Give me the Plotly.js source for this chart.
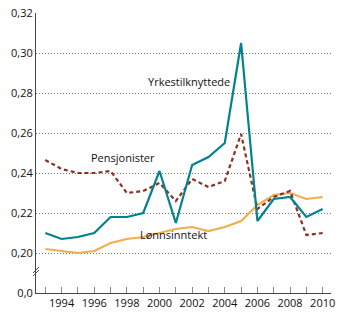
<!DOCTYPE html>
<html><head><meta charset="utf-8">
<script src="https://cdn.plot.ly/plotly-3.0.1.min.js"></script>
<style>body{margin:0;background:#fff}#c{width:350px;height:324px}</style>
</head><body><div id="c"></div>
<script>
const years = [1993,1994,1995,1996,1997,1998,1999,2000,2001,2002,2003,2004,2005,2006,2007,2008,2009,2010];
const yrkestilknyttede = [0.210,0.207,0.208,0.210,0.218,0.218,0.220,0.241,0.215,0.244,0.248,0.255,0.305,0.216,0.227,0.228,0.218,0.222];
const pensjonister = [0.2465,0.242,0.240,0.240,0.241,0.230,0.231,0.235,0.226,0.237,0.233,0.236,0.2595,0.222,0.228,0.231,0.209,0.210];
const lonnsinntekt = [0.202,0.201,0.200,0.201,0.205,0.207,0.208,0.210,0.212,0.213,0.211,0.213,0.216,0.224,0.229,0.230,0.227,0.228];
const yTickVals = [0.18,0.20,0.22,0.24,0.26,0.28,0.30,0.32];
const yTickText = ["0,0","0,20","0,22","0,24","0,26","0,28","0,30","0,32"];
const xTickVals = years;
const xTickText = years.map(y => (y % 2 === 0 ? String(y) : ""));

const font = {family: "Open Sans, DejaVu Sans, sans-serif", size: 11, color: "#111"};
const traces = [
  {x: years, y: lonnsinntekt, mode: "lines", line: {color: "#f2ae4c", width: 2.2}, name: "Lønnsinntekt"},
  {x: years, y: pensjonister, mode: "lines", line: {color: "#8e2f22", width: 2.2, dash: "4px,3px"}, name: "Pensjonister"},
  {x: years, y: yrkestilknyttede, mode: "lines", line: {color: "#00838c", width: 2.2}, name: "Yrkestilknyttede"}
];
const px = 1/295, py = 1/280;
const layout = {
  width: 350, height: 324,
  margin: {l: 36, r: 19, t: 13, b: 31},
  paper_bgcolor: "#fff", plot_bgcolor: "#fff",
  showlegend: false,
  font: font,
  xaxis: {
    range: [1992.43, 2010.51], tickvals: xTickVals, ticktext: xTickText,
    ticks: "inside", ticklen: 6, tickcolor: "#888", tickwidth: 1,
    showgrid: false, zeroline: false, showline: true, linecolor: "#444", linewidth: 1,
    tickfont: font, fixedrange: true
  },
  yaxis: {
    range: [0.18, 0.32], tickvals: yTickVals, ticktext: yTickText,
    ticks: "", showgrid: true, gridcolor: "#777", griddash: "1px,2px", gridwidth: 1,
    zeroline: false, showline: true, linecolor: "#444", linewidth: 1,
    tickfont: font, fixedrange: true
  },
  annotations: [
    {xref: "paper", yref: "paper", x: (189-36)*px, y: (293-72)*py, text: "Yrkestilknyttede", showarrow: false, font: font},
    {xref: "paper", yref: "paper", x: (89-36)*px, y: (293-158)*py, text: "Pensjonister", showarrow: false, font: font},
    {xref: "paper", yref: "paper", x: (173-36)*px, y: (293-244)*py, text: "Lønnsinntekt", showarrow: false, font: font}
  ],
  shapes: [
    {type: "line", xref: "paper", yref: "paper", x0: -3*px, y0: (293-276)*py, x1: 3*px, y1: (293-270)*py, line: {color: "#444", width: 1}},
    {type: "line", xref: "paper", yref: "paper", x0: -3*px, y0: (293-273)*py, x1: 3*px, y1: (293-267)*py, line: {color: "#444", width: 1}}
  ]
};
Plotly.newPlot("c", traces, layout, {displayModeBar: false, staticPlot: true});
</script></body></html>
